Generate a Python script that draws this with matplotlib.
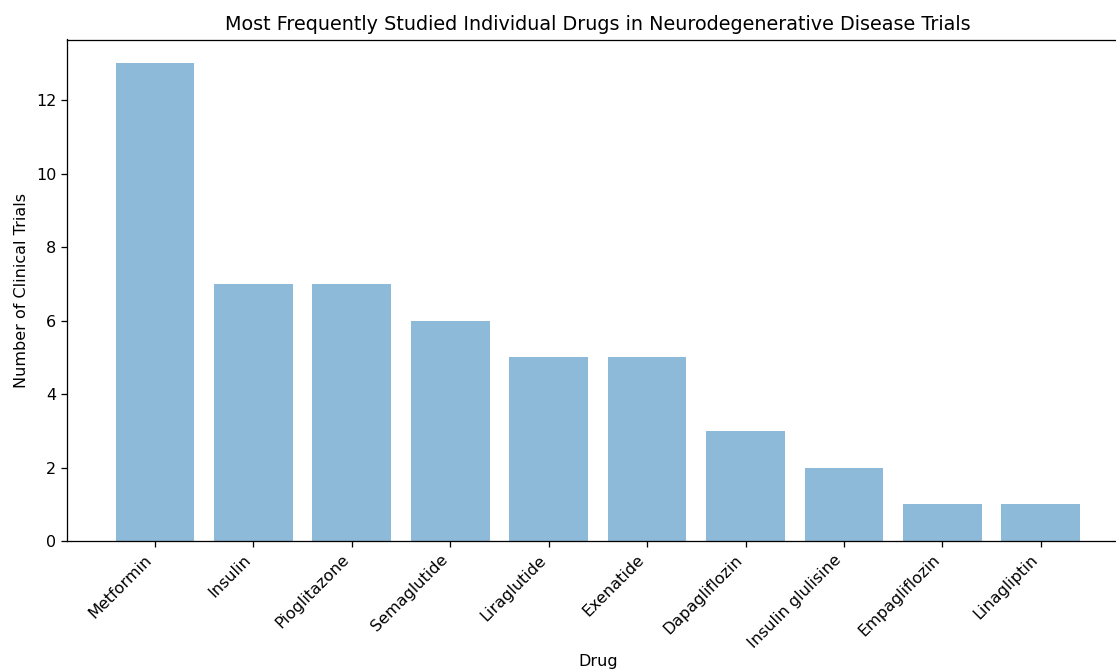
import matplotlib.pyplot as plt

drugs = ['Metformin', 'Insulin', 'Pioglitazone', 'Semaglutide', 'Liraglutide',
         'Exenatide', 'Dapagliflozin', 'Insulin glulisine', 'Empagliflozin', 'Linagliptin']
trial_counts = [13, 7, 7, 6, 5, 5, 3, 2, 1, 1]

W, H = 1116, 669
DPI = 115
fig = plt.figure(figsize=(W / DPI, H / DPI), dpi=DPI)
# axes run slightly past the right edge of the canvas
ax = fig.add_axes([67.4 / W, (H - 541) / H, 1061 / W, 501.5 / H])

ax.bar(drugs, trial_counts, color='#1f77b4', alpha=0.5)
ax.set_title('Most Frequently Studied Individual Drugs in Neurodegenerative Disease Trials', fontsize=12)
ax.set_xlabel('Drug', labelpad=2)
ax.set_ylabel('Number of Clinical Trials')
plt.setp(ax.get_xticklabels(), rotation=45, ha='right')

fig.savefig('out.png', dpi=DPI)
